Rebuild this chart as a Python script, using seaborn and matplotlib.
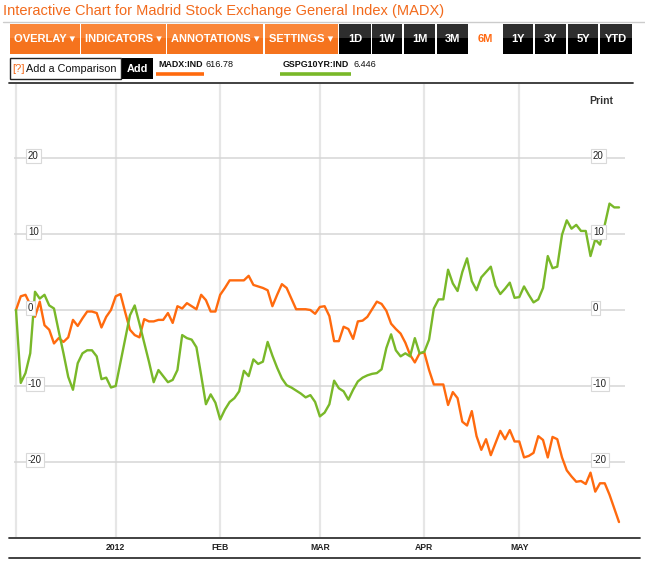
import numpy as np
import pandas as pd
import seaborn as sns
import matplotlib.pyplot as plt
from matplotlib.patches import Rectangle

# Sesiones de mercado (dic-2011 a may-2012)
start_day, end_day = "2011-12-01", "2012-05-31"
market_holidays = ["2011-12-26", "2012-04-06", "2012-05-01"]

# Variacion % desde el inicio del periodo, una cifra por sesion
madx_pct = [
    0.0, 1.8, 2.0, 0.7, -0.9, 1.1, -2.0, -2.6, -4.4, -3.7, -4.2, -3.6, -1.3, -2.1, -1.1, -0.2,
    -0.2, -0.4, -2.3, -0.9, 0.0, 1.8, 2.1, -0.3, -2.6, -3.3, -3.6, -1.2, -1.5, -1.5, -1.3, -1.3,
    -0.4, -1.7, 0.5, 0.2, 0.9, 0.5, 0.1, 2.0, 1.3, -0.2, -0.2, 2.0, 2.9, 3.9, 3.9, 3.9,
    3.9, 4.5, 3.3, 3.1, 2.9, 2.6, 0.5, 2.0, 3.4, 2.9, 1.5, 0.1, 0.1, 0.1, 0.0, -0.5,
    0.4, 0.5, -0.8, -4.1, -4.1, -2.2, -2.5, -3.8, -1.5, -1.4, -0.9, 0.1, 1.1, 0.8, -0.1, -1.8,
    -2.5, -3.1, -4.3, -5.9, -6.9, -5.7, -5.6, -7.9, -9.8, -9.8, -9.8, -12.5, -10.8, -11.6, -14.7, -15.2,
    -13.3, -16.6, -18.4, -17.0, -19.1, -17.5, -15.9, -17.0, -15.8, -17.3, -17.3, -19.4, -19.2, -18.8, -16.6, -17.1,
    -19.4, -16.7, -17.0, -19.4, -21.1, -21.9, -22.6, -22.5, -22.9, -21.4, -23.9, -22.8, -22.8, -24.3, -26.1, -27.9,
]
gspg_pct = [
    0.0, -9.6, -8.3, -5.7, 2.4, 1.5, 2.0, 0.6, 0.2, -2.8, -5.7, -8.8, -10.5, -7.0, -5.7, -5.3,
    -5.3, -6.1, -9.1, -8.9, -10.2, -10.0, -6.9, -3.8, -0.7, 0.6, -1.8, -4.3, -6.8, -9.5, -7.9, -8.7,
    -9.5, -9.2, -7.9, -3.3, -3.7, -3.9, -4.9, -8.6, -12.4, -11.1, -12.2, -14.4, -13.1, -12.1, -11.6, -10.7,
    -8.0, -8.7, -6.5, -7.1, -6.8, -4.2, -6.0, -7.6, -9.0, -9.9, -10.2, -10.6, -11.0, -11.5, -11.2, -12.1,
    -14.0, -13.5, -12.4, -9.3, -10.3, -10.7, -11.8, -10.5, -9.4, -8.9, -8.6, -8.4, -8.3, -7.8, -5.0, -3.2,
    -5.3, -6.1, -5.7, -6.1, -3.7, -5.7, -5.5, -3.9, 0.2, 1.4, 1.4, 5.3, 3.5, 2.5, 5.0, 6.8,
    3.8, 2.6, 4.3, 5.0, 5.7, 3.2, 2.1, 2.8, 3.6, 1.6, 1.7, 3.1, 2.0, 1.0, 1.4, 2.9,
    7.1, 5.5, 5.7, 9.9, 11.8, 10.7, 11.2, 10.4, 10.4, 7.1, 9.3, 8.6, 11.2, 14.0, 13.5, 13.5,
]
series_names = ["MADX:IND", "GSPG10YR:IND"]
last_quotes = ["616.78", "6.446"]
month_labels = ["", "2012", "FEB", "MAR", "APR", "MAY"]
y_ticks = [-20, -10, 0, 10, 20]

title = "Interactive Chart for Madrid Stock Exchange General Index (MADX)"
menu_buttons = ["OVERLAY \u25be", "INDICATORS \u25be", "ANNOTATIONS \u25be", "SETTINGS \u25be"]
range_buttons = ["1D", "1W", "1M", "3M", "6M", "1Y", "3Y", "5Y", "YTD"]

ORANGE = "#ff6a0e"
GREEN = "#79b829"
palette = {series_names[0]: ORANGE, series_names[1]: GREEN}

days = pd.bdate_range(start_day, end_day, freq="C", holidays=market_holidays)
df = pd.DataFrame({"date": days, series_names[0]: madx_pct, series_names[1]: gspg_pct})
df["session"] = np.arange(len(df))
long_df = df.melt(id_vars=["date", "session"], value_vars=series_names,
                  var_name="serie", value_name="pct")
month_pos = df.groupby(df["date"].dt.to_period("M"))["session"].first().tolist()

sns.set_style("white")
plt.rcParams["font.family"] = ["Liberation Sans", "DejaVu Sans"]

W, H = 645, 564
fig = plt.figure(figsize=(W / 100, H / 100), dpi=100)

# lienzo en pixeles para la cabecera
canvas = fig.add_axes([0, 0, 1, 1])
canvas.set_xlim(0, W)
canvas.set_ylim(H, 0)
canvas.axis("off")

canvas.text(3, 11.5, title, color="#f26a1c", fontsize=10.5, va="center", ha="left")
canvas.plot([3, 645], [21.5, 21.5], color="#cccccc", lw=1)

def button(x0, x1, top, bottom, label, color):
    y0, y1 = 24, 54
    canvas.add_patch(Rectangle((x0, y0), x1 - x0, y1 - y0, fc=bottom, ec="none"))
    if top:
        canvas.add_patch(Rectangle((x0, y0), x1 - x0, (y1 - y0) * 0.48, fc=top, ec="none"))
    canvas.text((x0 + x1) / 2, 39.5, label, color=color, fontsize=8, fontweight="bold",
                ha="center", va="center")

menu_x = [(10, 80), (81, 166), (167, 263), (265, 338)]
for (x0, x1), lab in zip(menu_x, menu_buttons):
    button(x0, x1, "#fa8638", "#f5731d", lab, "white")

range_x = [(339, 371), (372, 402), (404, 435), (437, 468), (469, 502),
           (503, 533), (535, 566), (568, 598), (600, 632)]
for (x0, x1), lab in zip(range_x, range_buttons):
    if lab == "6M":
        button(x0, x1, None, "white", lab, "#ff6a13")
    else:
        button(x0, x1, "#2e2e2e", "#000000", lab, "white")

# fila de comparacion
canvas.add_patch(Rectangle((10, 57.5), 110.5, 21, fc="white", ec="#222222", lw=1))
canvas.text(12.5, 68.5, "[?]", color="#f26a1c", fontsize=8, va="center")
canvas.text(26.5, 68.5, "Add a Comparison", color="#111111", fontsize=7.8, va="center")
canvas.add_patch(Rectangle((122, 57.5), 30.5, 21, fc="black", ec="none"))
canvas.text(137.2, 68.5, "Add", color="white", fontsize=7.8, fontweight="bold",
            ha="center", va="center")

legend_x = [(158, 206, 156, 204), (283, 354, 280, 351)]
for (tx, qx, u0, u1), name, quote in zip(legend_x, series_names, last_quotes):
    canvas.text(tx, 64.5, name, fontsize=6.4, fontweight="bold", color="#111111", va="center")
    canvas.text(qx, 64.5, quote, fontsize=6.6, color="#111111", va="center")
    canvas.plot([u0, u1], [73.5, 73.5], color=palette[name], lw=2.6, solid_capstyle="butt")

canvas.plot([9, 633], [82.5, 82.5], color="#333333", lw=1.3)
canvas.plot([9, 640], [538, 538], color="#333333", lw=1.3)
canvas.plot([9, 640], [558, 558], color="#333333", lw=1.3)
canvas.text(601, 101, "Print", fontsize=7.5, fontweight="bold", color="#333333",
            ha="center", va="center")

# area del grafico
px_day, px_unit, y_zero = 4.748, 7.6, 310
ax_l, ax_r, ax_t, ax_b = 14, 625, 84, 537
ax = fig.add_axes([ax_l / W, 1 - ax_b / H, (ax_r - ax_l) / W, (ax_b - ax_t) / H])
ax.set_facecolor("none")

sns.lineplot(data=long_df, x="session", y="pct", hue="serie", palette=palette,
             linewidth=1.7, legend=False, ax=ax, zorder=3)

xmin = -(16 - ax_l) / px_day
ax.set_xlim(xmin, xmin + (ax_r - ax_l) / px_day)
ax.set_ylim((y_zero - ax_b) / px_unit, (y_zero - ax_t) / px_unit)
ax.set_xticks(month_pos)
ax.set_xticklabels(month_labels, fontsize=6.2, fontweight="bold", color="#222222")
ax.set_yticks(y_ticks)
ax.tick_params(axis="both", length=0)
ax.tick_params(axis="x", pad=4)
ax.tick_params(axis="y", labelleft=False)
ax.xaxis.grid(True, color="#e6e6e6", lw=1.6)
ax.yaxis.grid(True, color="#d6d6d6", lw=1.1)
ax.set_xlabel("")
ax.set_ylabel("")
for s in ax.spines.values():
    s.set_visible(False)

box = dict(boxstyle="square,pad=0.2", fc="white", ec="#d9d9d9", lw=0.8)
for v in y_ticks:
    for xa in [(28 - ax_l) / (ax_r - ax_l), (593 - ax_l) / (ax_r - ax_l)]:
        ax.text(xa, v + 0.25, f"{v:d}", transform=ax.get_yaxis_transform(), fontsize=7,
                color="#222222", ha="left", va="center", bbox=box, zorder=5)

plt.savefig("out.png", dpi=100)
plt.close()
